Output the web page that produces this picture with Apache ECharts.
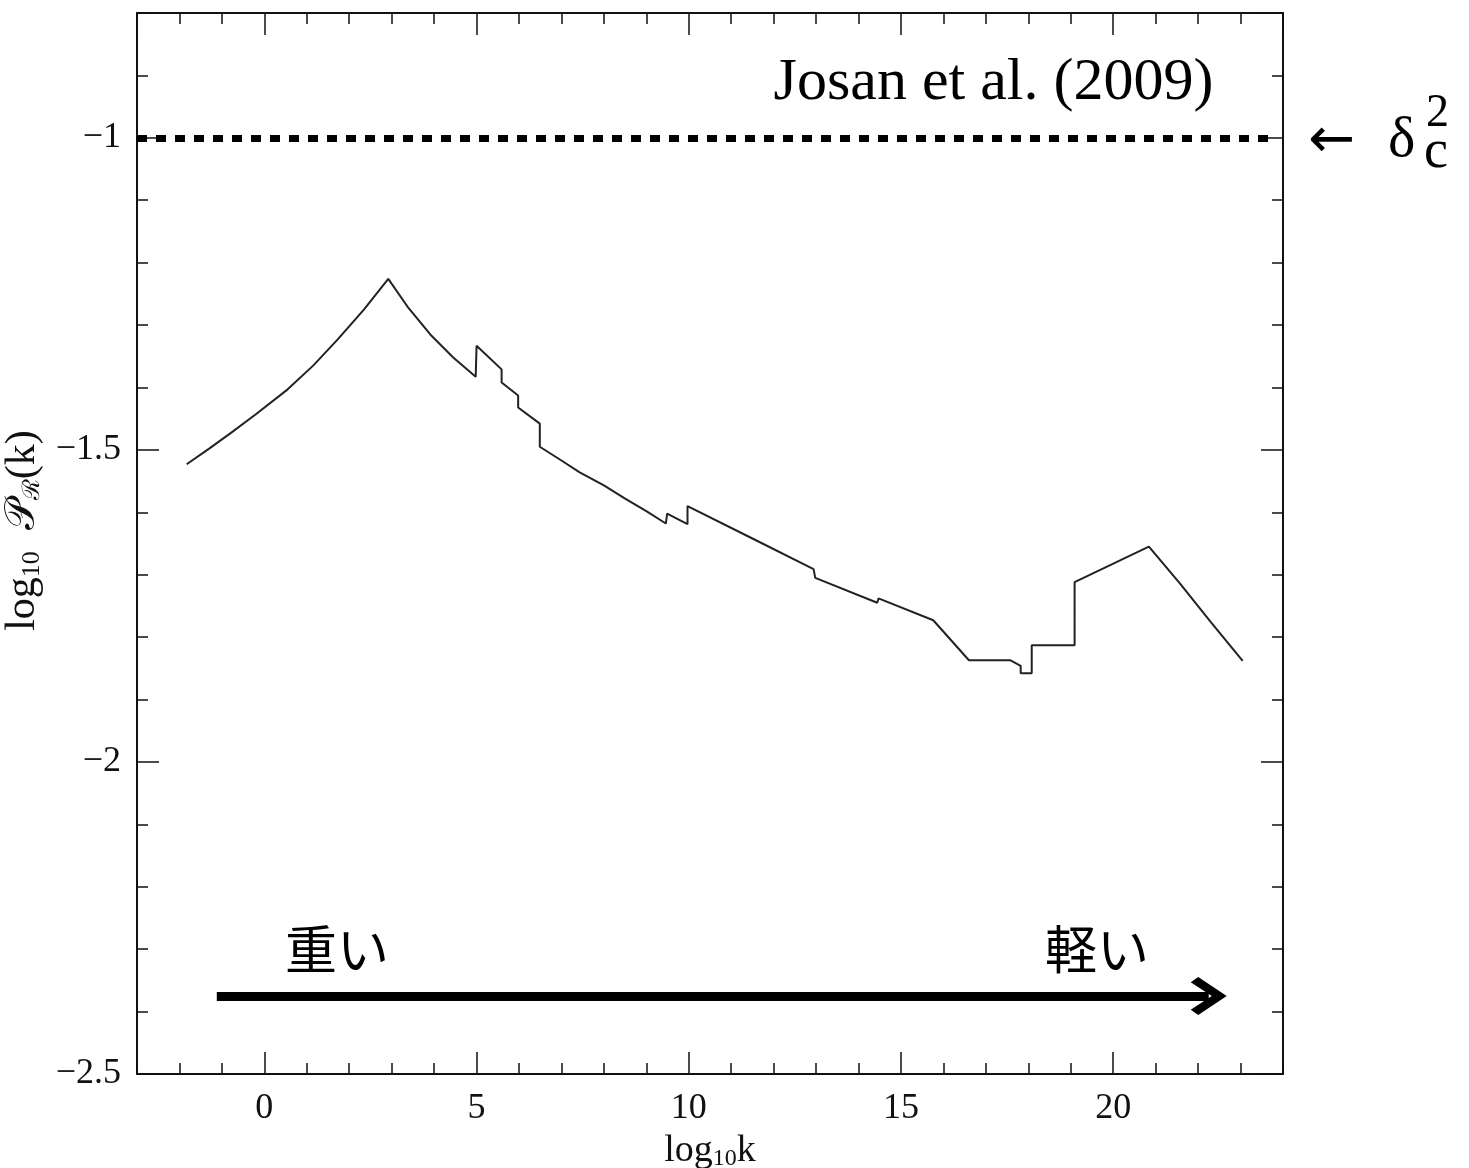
<!DOCTYPE html>
<html>
<head>
<meta charset="utf-8">
<script src="https://cdn.jsdelivr.net/npm/echarts@6/dist/echarts.min.js"></script>
<style>html,body{margin:0;padding:0;background:#fff;}#c{width:1469px;height:1168px;}</style>
</head>
<body>
<div id="c"></div>
<script>
// ---- data ----
const logK = [-1.83, -1.3, -0.77, -0.2, 0.55, 1.15, 1.73, 2.35, 2.92, 3.4, 3.91, 4.45, 4.98, 5.0, 5.59, 5.59, 5.98, 5.98, 6.49, 6.49, 7.0, 7.43, 8.0, 8.5, 9.0, 9.46, 9.49, 9.97, 9.97, 11.5, 12.94, 12.98, 14.44, 14.47, 15.76, 16.6, 17.57, 17.82, 17.82, 18.08, 18.08, 19.09, 19.09, 20.84, 21.57, 22.3, 23.05];
const logP = [-1.523, -1.498, -1.472, -1.443, -1.403, -1.365, -1.323, -1.275, -1.226, -1.273, -1.315, -1.352, -1.383, -1.333, -1.371, -1.392, -1.413, -1.432, -1.458, -1.495, -1.517, -1.536, -1.557, -1.578, -1.598, -1.618, -1.602, -1.619, -1.590, -1.642, -1.691, -1.705, -1.745, -1.738, -1.773, -1.837, -1.837, -1.846, -1.858, -1.858, -1.813, -1.813, -1.712, -1.655, -1.714, -1.776, -1.838];
const deltaC2 = -1;           // critical threshold line
const xRange = [-3, 24];
const yRange = [-2.5, -0.8];
const dottedEnd = 23.72;
const arrowSpan = [-1.12, 22.25];
const arrowLevel = -2.375;
const heavyLabel = '重い';
const lightLabel = '軽い';
const heavyPos = [1.71, -2.30];
const lightPos = [19.62, -2.30];
const sourceLabel = 'Josan et al. (2009)';
const sourcePos = [17.18, -0.913];

const serif = '"Liberation Serif", "DejaVu Serif", serif';
const ink = '#111';
const fmt = v => String(v).replace('-', '\u2212');

const seriesData = logK.map((k, i) => [k, logP[i]]);

const majorTick = {show: true, inside: true, length: 22, lineStyle: {color: ink, width: 1.5}};
const minorTick = {show: true, inside: true, length: 11, lineStyle: {color: ink, width: 1.5}};
const axisLine = {show: true, onZero: false, lineStyle: {color: ink, width: 2}};
const hiddenLine = {show: false, onZero: false};

const chart = echarts.init(document.getElementById('c'), null, {renderer: 'canvas'});
chart.setOption({
  animation: false,
  backgroundColor: '#fff',
  grid: {left: 137, right: 186, top: 13, bottom: 94, containLabel: false, outerBoundsMode: 'none'},
  xAxis: [
    {type: 'value', min: xRange[0], max: xRange[1], position: 'bottom', splitNumber: 5,
     axisLine: axisLine, axisTick: majorTick, splitLine: {show: false},
     axisLabel: {showMinLabel: false, showMaxLabel: false, margin: 17, fontSize: 36, fontFamily: serif, color: ink, formatter: fmt},
     name: 'log{s|10}k', nameLocation: 'middle', nameGap: 45,
     nameTextStyle: {fontFamily: serif, fontSize: 38, color: ink,
       rich: {s: {fontFamily: serif, fontSize: 24, color: ink, verticalAlign: 'bottom', padding: [16, 0, 0, 0]}}}},
    {type: 'value', min: xRange[0], max: xRange[1], position: 'bottom', interval: 1,
     axisLine: hiddenLine, axisTick: minorTick, axisLabel: {show: false}, splitLine: {show: false}},
    {type: 'value', min: xRange[0], max: xRange[1], position: 'top', splitNumber: 5,
     axisLine: axisLine, axisTick: majorTick, axisLabel: {show: false}, splitLine: {show: false}},
    {type: 'value', min: xRange[0], max: xRange[1], position: 'top', interval: 1,
     axisLine: hiddenLine, axisTick: minorTick, axisLabel: {show: false}, splitLine: {show: false}}
  ],
  yAxis: [
    {type: 'value', min: yRange[0], max: yRange[1], position: 'left', interval: 0.5,
     axisLine: axisLine, axisTick: majorTick, splitLine: {show: false},
     axisLabel: {showMaxLabel: false, margin: 16, fontSize: 36, fontFamily: serif, color: ink, formatter: fmt},
     name: 'log{s|10}  {p|\u{1D4AB}}{r|\u211B}(k)', nameLocation: 'middle', nameGap: 80,
     nameTextStyle: {fontFamily: serif, fontSize: 42, color: ink, padding: [0, 0, 0, 26],
       rich: {s: {fontFamily: serif, fontSize: 26, color: ink, verticalAlign: 'bottom', padding: [18, 0, 0, 0]},
              p: {fontFamily: serif, fontSize: 42, color: ink},
              r: {fontFamily: serif, fontSize: 24, color: ink, verticalAlign: 'bottom', padding: [18, 0, 0, 0]}}}},
    {type: 'value', min: yRange[0], max: yRange[1], position: 'left', interval: 0.1,
     axisLine: hiddenLine, axisTick: minorTick, axisLabel: {show: false}, splitLine: {show: false}},
    {type: 'value', min: yRange[0], max: yRange[1], position: 'right', interval: 0.5,
     axisLine: axisLine, axisTick: majorTick, axisLabel: {show: false}, splitLine: {show: false}},
    {type: 'value', min: yRange[0], max: yRange[1], position: 'right', interval: 0.1,
     axisLine: hiddenLine, axisTick: minorTick, axisLabel: {show: false}, splitLine: {show: false}}
  ],
  series: [
    {type: 'line', xAxisIndex: 0, yAxisIndex: 0, data: seriesData, showSymbol: false, symbol: 'none',
     lineStyle: {color: '#222', width: 2}, silent: true, z: 5},
    {type: 'line', xAxisIndex: 0, yAxisIndex: 0, data: [], silent: true,
     markLine: {silent: true, symbol: ['none', 'none'], label: {show: false},
       lineStyle: {color: '#000', width: 7, type: [10, 9]},
       data: [[{coord: [xRange[0], deltaC2]}, {coord: [dottedEnd, deltaC2]}]]}},
    {type: 'line', xAxisIndex: 0, yAxisIndex: 0, data: [], silent: true,
     markLine: {silent: true, symbol: ['none', 'path://M18,0 L36,19 L31,24 L18,10 L5,24 L0,19 Z'], symbolSize: [38, 36],
       label: {show: false}, lineStyle: {color: '#000', width: 9, type: 'solid'},
       data: [[{coord: [arrowSpan[0], arrowLevel]}, {coord: [arrowSpan[1], arrowLevel]}]]},
     markPoint: {silent: true, symbol: 'circle', symbolSize: 0,
       label: {show: true, position: 'inside', color: '#000'},
       data: [
         {coord: heavyPos, value: heavyLabel, label: {formatter: heavyLabel, fontSize: 52, fontFamily: '"Noto Sans CJK JP", sans-serif'}},
         {coord: lightPos, value: lightLabel, label: {formatter: lightLabel, fontSize: 52, fontFamily: '"Noto Sans CJK JP", sans-serif'}},
         {coord: sourcePos, value: sourceLabel, label: {formatter: sourceLabel, fontSize: 60, fontFamily: serif}}
       ]}}
  ],
  graphic: [
    {type: 'text', x: 1308, y: 142, style: {text: '\u2190', font: '56px "DejaVu Sans", sans-serif', fill: '#000', verticalAlign: 'middle'}},
    {type: 'text', x: 1388, y: 112, style: {text: '\u03B4', font: '58px ' + serif, fill: '#000', verticalAlign: 'top'}},
    {type: 'text', x: 1426, y: 91, style: {text: '2', font: '46px ' + serif, fill: '#000', verticalAlign: 'top'}},
    {type: 'text', x: 1424, y: 126, style: {text: 'c', font: '54px ' + serif, fill: '#000', verticalAlign: 'top'}}
  ]
});
</script>
</body>
</html>
